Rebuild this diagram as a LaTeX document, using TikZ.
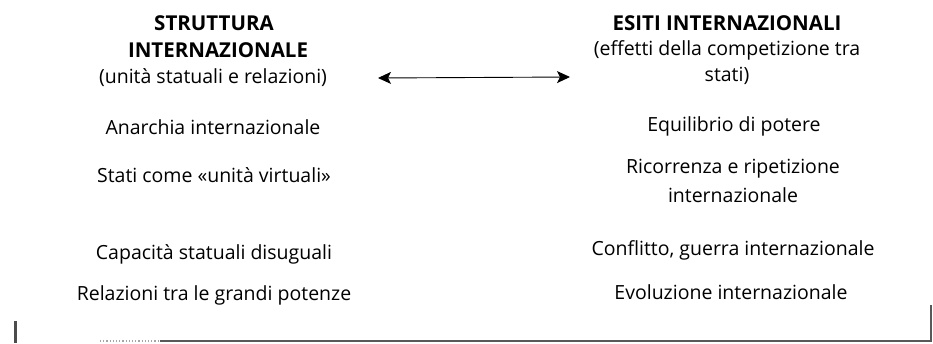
\documentclass[tikz,border=0pt]{standalone}
\usepackage{fontspec}
\setmainfont{Open Sans}
\usetikzlibrary{arrows.meta}
\begin{document}
\begin{tikzpicture}[x=1pt,y=-1pt,
  txt/.style={anchor=center,inner sep=0pt,font=\fontsize{19.5}{21}\selectfont},
  hdr/.style={anchor=center,inner sep=0pt,font=\fontsize{20.5}{22}\selectfont\bfseries},
  frame/.style={draw=black!65,line width=1.2pt},
  link/.style={draw=black,line width=0.9pt,{Stealth[length=13pt,width=12pt,inset=3pt]}-{Stealth[length=13pt,width=12pt,inset=3pt]}}]
\useasboundingbox (0,0) rectangle (933,343);
% left column
\node[hdr] (l1) at (214,23) {STRUTTURA};
\node[hdr] (l2) at (218,50) {INTERNAZIONALE};
\node[txt] (l3) at (213,78) {(unità statuali e relazioni)};
\node[txt] (l4) at (213,127) {Anarchia internazionale};
\node[txt] (l5) at (214,175) {Stati come «unità virtuali»};
\node[txt] (l6) at (214,254) {Capacità statuali disuguali};
\node[txt] (l7) at (214,295) {Relazioni tra le grandi potenze};
% right column
\node[hdr] (r1) at (727,23) {ESITI INTERNAZIONALI};
\node[txt] (r2) at (727,50) {(effetti della competizione tra};
\node[txt] (r3) at (727,76) {stati)};
\node[txt] (r4) at (734,126) {Equilibrio di potere};
\node[txt] (r5) at (733,169) {Ricorrenza e ripetizione};
\node[txt] (r6) at (733,195) {internazionale};
\node[txt] (r7) at (733,250) {Conflitto, guerra internazionale};
\node[txt] (r8) at (731,292) {Evoluzione internazionale};
% arrow
\coordinate (al) at (378,78);
\coordinate (ar) at (570,77);
\draw[link] (al) -- (ar);
% frame remnants
\coordinate (bl) at (100,341);
\coordinate (bm) at (160,341);
\coordinate (br) at (931,341);
\coordinate (rt) at (931,305);
\draw[frame,draw=black!35,dotted] (bl) -- (bm);
\draw[frame] (bm) -- (br) -- (rt);
\coordinate (vt) at (15,321);
\coordinate (vb) at (15,343);
\draw[draw=black!70,line width=3pt] (vt) -- (vb);
\end{tikzpicture}
\end{document}
